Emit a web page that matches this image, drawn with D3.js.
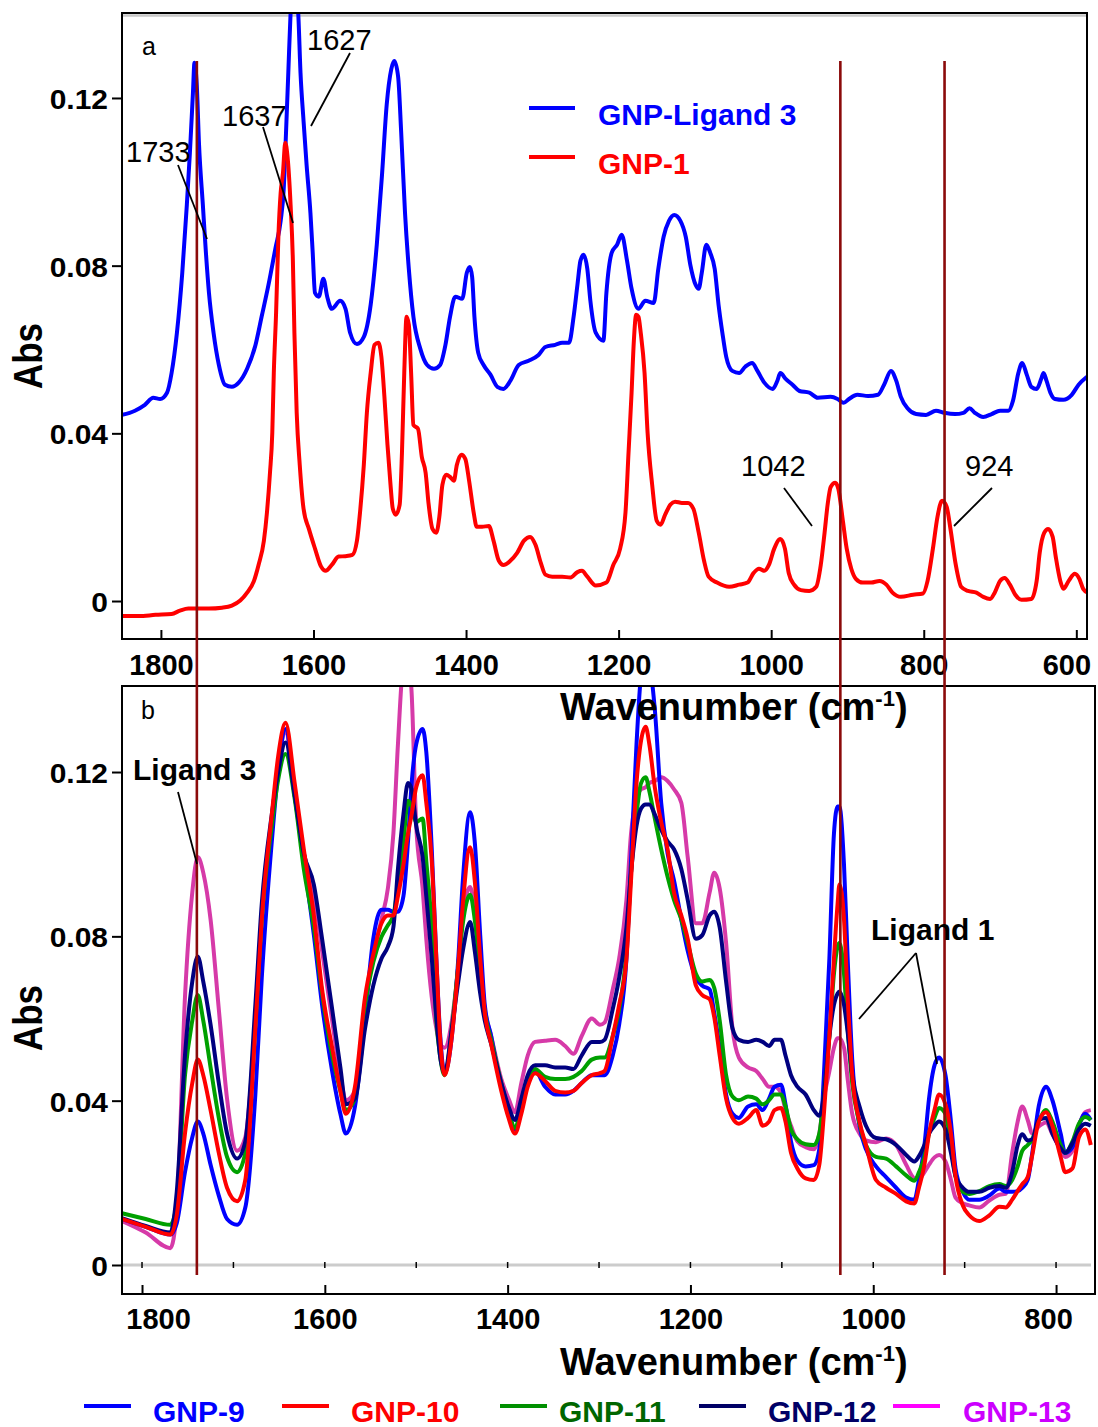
<!DOCTYPE html>
<html><head><meta charset="utf-8">
<script src="https://cdn.jsdelivr.net/npm/d3@7"></script>
<style>body{margin:0;background:#fff;} svg{display:block;}</style>
</head><body>
<svg id="chart" width="1098" height="1427"></svg>
<script>
// ---------- Panel a data ----------
const ligand3Wn = [1851,1834,1821,1810,1801,1792,1786,1779,1772,1766,1762,1758,1756,1753,1750,1745,1741,1737,1731,1724,1716,1707,1698,1687,1676,1668,1659,1650,1643,1639,1636,1633,1630,1626,1620,1617,1613,1609,1604,1601,1598,1593,1587,1582,1576,1565,1558,1552,1543,1534,1525,1517,1510,1504,1498,1494,1489,1485,1480,1475,1469,1460,1451,1442,1434,1427,1421,1414,1405,1399,1395,1392,1389,1384,1377,1368,1359,1351,1342,1331,1318,1305,1296,1283,1274,1265,1259,1254,1250,1246,1241,1237,1230,
1220,1216,1209,1202,1196,1189,1183,1174,1165,1154,1148,1141,1134,1127,1119,1112,1106,1099,1095,1091,1085,1080,1074,1069,1064,1059,1051,1042,1034,1025,1018,1009,998,992,988,981,972,963,950,939,922,913,905,898,887,873,860,852,843,836,830,821,810,797,784,773,759,748,740,733,722,711,700,689,683,676,671,665,659,652,646,643,639,634,628,617,606,597,586];
const ligand3Abs = [0.0444,0.0454,0.0468,0.0485,0.0482,0.0497,0.0544,0.0640,0.0783,0.0945,0.1069,0.1212,0.1284,0.1231,0.1088,0.0945,0.0831,0.0735,0.0640,0.0563,0.0516,0.0511,0.0521,0.0554,0.0611,0.0678,0.0754,0.0840,0.0907,0.0983,0.1117,0.1260,0.1403,0.1500,0.1403,0.1260,0.1145,0.1040,0.0926,0.0831,0.0735,0.0726,0.0769,0.0726,0.0697,0.0716,0.0697,0.0640,0.0613,0.0630,0.0707,0.0850,0.1021,0.1184,0.1269,0.1288,0.1250,0.1117,0.0926,0.0792,0.0678,0.0602,0.0563,0.0554,0.0563,0.0611,0.0678,0.0726,0.0721,0.0783,0.0797,0.0773,0.0678,0.0592,0.0563,0.0540,0.0511,0.0506,0.0525,0.0563,0.0573,0.0587,0.0606,0.0611,0.0616,0.0616,0.0678,0.0754,0.0812,0.0826,0.0792,0.0716,0.0640,
0.0621,0.0735,0.0831,0.0850,0.0874,0.0812,0.0745,0.0697,0.0716,0.0711,0.0792,0.0869,0.0907,0.0921,0.0907,0.0869,0.0802,0.0754,0.0745,0.0783,0.0850,0.0831,0.0792,0.0707,0.0640,0.0583,0.0549,0.0544,0.0559,0.0568,0.0549,0.0521,0.0506,0.0525,0.0544,0.0530,0.0516,0.0501,0.0497,0.0485,0.0487,0.0482,0.0473,0.0482,0.0492,0.0489,0.0492,0.0516,0.0549,0.0525,0.0487,0.0459,0.0446,0.0444,0.0454,0.0449,0.0446,0.0449,0.0460,0.0449,0.0439,0.0446,0.0454,0.0454,0.0478,0.0544,0.0568,0.0540,0.0511,0.0506,0.0530,0.0544,0.0525,0.0497,0.0482,0.0480,0.0492,0.0516,0.0535];

const gnp1Wn = [1851,1829,1807,1786,1775,1764,1737,1720,1707,1696,1687,1678,1672,1665,1661,1657,1654,1652,1649,1646,1643,1640,1637,1634,1630,1627,1625,1622,1618,1613,1606,1598,1590,1584,1576,1567,1558,1549,1543,1539,1534,1530,1525,1520,1515,1511,1507,1503,1499,1496,1492,1487,1484,1481,1478,1475,1472,1469,1463,1458,1453,1449,1444,1439,1435,1431,1426,1421,1416,1412,1406,1401,1396,1390,1386,1379,1370,1364,1357,1351,1342,1333,1324,1316,1309,1302,1296,1287,1274,1263,1254,1248,1241,1230,
1216,1207,1198,1191,1187,1183,1180,1177,1174,1171,1166,1162,1156,1150,1145,1139,1132,1126,1117,1109,1102,1095,1088,1082,1071,1055,1042,1031,1023,1016,1009,1003,996,988,982,977,970,961,950,941,935,930,926,922,916,912,906,901,895,889,880,869,858,849,841,830,814,801,795,788,782,776,770,765,758,751,742,731,722,713,707,700,694,687,680,672,659,652,648,642,637,631,627,621,617,610,602,596,591,585];
const gnp1Abs = [-0.0036,-0.0036,-0.0033,-0.0031,-0.0023,-0.0018,-0.0018,-0.0016,-0.0011,0.0001,0.0020,0.0048,0.0086,0.0144,0.0211,0.0306,0.0401,0.0544,0.0688,0.0869,0.0974,0.1021,0.1093,0.1060,0.0945,0.0812,0.0640,0.0449,0.0325,0.0220,0.0172,0.0125,0.0082,0.0072,0.0086,0.0106,0.0107,0.0110,0.0144,0.0211,0.0325,0.0449,0.0544,0.0611,0.0616,0.0583,0.0487,0.0373,0.0277,0.0220,0.0206,0.0230,0.0354,0.0544,0.0678,0.0659,0.0544,0.0420,0.0411,0.0344,0.0306,0.0230,0.0172,0.0163,0.0201,0.0277,0.0301,0.0296,0.0287,0.0325,0.0349,0.0339,0.0287,0.0211,0.0177,0.0177,0.0179,0.0144,0.0096,0.0086,0.0096,0.0115,0.0144,0.0153,0.0134,0.0091,0.0063,0.0058,0.0058,0.0056,0.0069,0.0072,0.0058,0.0037,
0.0044,0.0086,0.0125,0.0211,0.0354,0.0497,0.0621,0.0683,0.0678,0.0640,0.0544,0.0401,0.0277,0.0191,0.0182,0.0206,0.0230,0.0237,0.0234,0.0234,0.0220,0.0163,0.0096,0.0058,0.0044,0.0034,0.0039,0.0044,0.0067,0.0077,0.0072,0.0086,0.0125,0.0148,0.0125,0.0067,0.0039,0.0026,0.0024,0.0034,0.0086,0.0163,0.0230,0.0272,0.0282,0.0268,0.0191,0.0125,0.0077,0.0053,0.0044,0.0044,0.0048,0.0039,0.0020,0.0010,0.0015,0.0018,0.0048,0.0125,0.0201,0.0239,0.0225,0.0172,0.0086,0.0034,0.0024,0.0020,0.0010,0.0005,0.0020,0.0048,0.0055,0.0039,0.0015,0.0003,0.0005,0.0048,0.0115,0.0163,0.0172,0.0153,0.0106,0.0048,0.0029,0.0048,0.0065,0.0053,0.0029,0.0020];

// ---------- Panel b data ----------
const bottomWn = [1822,1796,1769,1762,1753,1745,1739,1733,1725,1716,1707,1696,1687,1676,1669,1658,1651,1643,1633,1623,1612,1603,1592,1583,1577,1567,1556,1547,1538,1531,1525,1520,1514,1509,1505,1500,1493,1489,1483,1478,1474,1469,1461,1454,1449,1441,1436,1430,1425,1418,1407,1399,1392,1385,1378,1370,1359,1348,1337,1328,1319,1308,1299,
1294,1285,1278,1270,1265,1259,1254,1249,1245,1239,1232,1225,1218,1210,1203,1194,1187,1179,1174,1168,1161,1154,1147,1137,1128,1121,1114,1108,1101,1096,1090,1083,1074,1065,1059,1054,1048,1043,1039,1037,1032,1028,1023,1015,1008,997,986,975,964,955,950,944,939,933,928,921,915,910,902,895,884,873,862,855,848,842,837,831,826,819,811,804,795,790,782,775,768,762];
const gnp9 = [0.0112,0.0093,0.0074,0.0102,0.0226,0.0311,0.0349,0.0320,0.0244,0.0169,0.0112,0.0098,0.0140,0.0415,0.0699,0.1031,0.1201,0.1305,0.1144,0.0983,0.0803,0.0633,0.0472,0.0368,0.0320,0.0386,0.0604,0.0794,0.0865,0.0865,0.0860,0.0860,0.0898,0.1031,0.1173,0.1268,0.1305,0.1249,0.1012,0.0746,0.0567,0.0467,0.0557,0.0746,0.0936,0.1102,0.1031,0.0803,0.0633,0.0557,0.0434,0.0368,0.0330,0.0377,0.0443,0.0472,0.0434,0.0415,0.0415,0.0424,0.0443,0.0462,0.0462,
0.0462,0.0510,0.0585,0.0746,0.0983,0.1268,0.1438,0.1485,0.1466,0.1353,0.1125,0.1002,0.0936,0.0841,0.0765,0.0699,0.0680,0.0671,0.0614,0.0529,0.0415,0.0368,0.0358,0.0386,0.0391,0.0377,0.0405,0.0434,0.0439,0.0391,0.0301,0.0254,0.0240,0.0243,0.0282,0.0462,0.0746,0.1050,0.1116,0.1116,0.0974,0.0746,0.0500,0.0339,0.0282,0.0240,0.0214,0.0188,0.0164,0.0159,0.0207,0.0292,0.0405,0.0486,0.0505,0.0462,0.0349,0.0235,0.0178,0.0159,0.0159,0.0169,0.0186,0.0178,0.0178,0.0180,0.0188,0.0207,0.0273,0.0386,0.0434,0.0401,0.0320,0.0273,0.0287,0.0339,0.0368,0.0353];
const gnp10 = [0.0112,0.0093,0.0074,0.0121,0.0320,0.0443,0.0500,0.0462,0.0377,0.0273,0.0188,0.0155,0.0207,0.0576,0.0841,0.1097,0.1239,0.1320,0.1173,0.1012,0.0851,0.0671,0.0529,0.0424,0.0368,0.0434,0.0652,0.0756,0.0832,0.0851,0.0851,0.0898,0.0974,0.1050,0.1097,0.1163,0.1192,0.1125,0.0983,0.0746,0.0557,0.0462,0.0557,0.0728,0.0879,0.1017,0.0936,0.0746,0.0614,0.0538,0.0424,0.0358,0.0320,0.0368,0.0434,0.0467,0.0448,0.0424,0.0420,0.0424,0.0443,0.0462,0.0467,
0.0472,0.0557,0.0633,0.0746,0.0936,0.1173,0.1277,0.1310,0.1268,0.1163,0.1078,0.1012,0.0907,0.0851,0.0794,0.0680,0.0657,0.0647,0.0604,0.0510,0.0405,0.0358,0.0344,0.0358,0.0377,0.0339,0.0349,0.0377,0.0382,0.0349,0.0273,0.0235,0.0211,0.0207,0.0244,0.0368,0.0557,0.0746,0.0879,0.0926,0.0841,0.0652,0.0462,0.0349,0.0292,0.0207,0.0188,0.0173,0.0155,0.0150,0.0188,0.0244,0.0320,0.0377,0.0415,0.0391,0.0320,0.0216,0.0145,0.0121,0.0107,0.0121,0.0142,0.0140,0.0159,0.0180,0.0197,0.0214,0.0268,0.0349,0.0372,0.0339,0.0263,0.0226,0.0235,0.0311,0.0330,0.0292];
const gnp11 = [0.0126,0.0112,0.0098,0.0150,0.0462,0.0595,0.0657,0.0595,0.0481,0.0358,0.0263,0.0226,0.0273,0.0585,0.0841,0.1069,0.1182,0.1244,0.1135,0.0964,0.0822,0.0661,0.0510,0.0424,0.0377,0.0405,0.0633,0.0737,0.0799,0.0827,0.0851,0.0926,0.1031,0.1130,0.1116,0.1078,0.1087,0.0983,0.0822,0.0595,0.0510,0.0462,0.0576,0.0728,0.0832,0.0901,0.0841,0.0709,0.0614,0.0548,0.0443,0.0377,0.0334,0.0386,0.0453,0.0477,0.0458,0.0453,0.0453,0.0458,0.0472,0.0500,0.0505,
0.0505,0.0557,0.0623,0.0765,0.0955,0.1097,0.1173,0.1187,0.1154,0.1087,0.1012,0.0945,0.0889,0.0841,0.0784,0.0709,0.0690,0.0694,0.0675,0.0595,0.0462,0.0410,0.0401,0.0410,0.0405,0.0391,0.0401,0.0415,0.0415,0.0386,0.0330,0.0306,0.0294,0.0292,0.0320,0.0415,0.0557,0.0709,0.0775,0.0784,0.0709,0.0576,0.0443,0.0344,0.0292,0.0263,0.0259,0.0240,0.0218,0.0205,0.0226,0.0263,0.0320,0.0358,0.0382,0.0368,0.0292,0.0216,0.0178,0.0173,0.0180,0.0192,0.0197,0.0192,0.0207,0.0240,0.0278,0.0292,0.0306,0.0349,0.0377,0.0349,0.0292,0.0273,0.0301,0.0344,0.0360,0.0353];
const gnp12 = [0.0114,0.0095,0.0079,0.0178,0.0510,0.0690,0.0751,0.0690,0.0585,0.0443,0.0320,0.0259,0.0301,0.0633,0.0879,0.1097,0.1201,0.1272,0.1144,0.1002,0.0926,0.0794,0.0623,0.0481,0.0391,0.0405,0.0576,0.0680,0.0746,0.0775,0.0822,0.0964,0.1097,0.1173,0.1158,0.1069,0.0993,0.0898,0.0746,0.0604,0.0510,0.0467,0.0576,0.0690,0.0765,0.0835,0.0765,0.0661,0.0595,0.0538,0.0443,0.0386,0.0353,0.0405,0.0462,0.0486,0.0486,0.0481,0.0481,0.0477,0.0510,0.0543,0.0543,
0.0548,0.0623,0.0699,0.0822,0.0955,0.1069,0.1111,0.1121,0.1121,0.1097,0.1059,0.1031,0.1012,0.0964,0.0889,0.0794,0.0803,0.0851,0.0860,0.0822,0.0690,0.0576,0.0548,0.0543,0.0548,0.0543,0.0533,0.0548,0.0548,0.0510,0.0462,0.0434,0.0415,0.0377,0.0363,0.0415,0.0557,0.0633,0.0661,0.0666,0.0633,0.0567,0.0462,0.0386,0.0339,0.0309,0.0306,0.0292,0.0268,0.0252,0.0265,0.0292,0.0320,0.0339,0.0349,0.0330,0.0273,0.0216,0.0188,0.0178,0.0178,0.0188,0.0192,0.0188,0.0226,0.0292,0.0318,0.0303,0.0306,0.0353,0.0358,0.0320,0.0284,0.0273,0.0297,0.0330,0.0344,0.0339];
const gnp13 = [0.0107,0.0079,0.0041,0.0131,0.0652,0.0907,0.0993,0.0955,0.0841,0.0623,0.0405,0.0278,0.0311,0.0595,0.0841,0.1087,0.1220,0.1296,0.1144,0.1002,0.0907,0.0765,0.0595,0.0462,0.0401,0.0424,0.0623,0.0756,0.0841,0.0917,0.1050,0.1268,0.1466,0.1485,0.1391,0.1069,0.0917,0.0794,0.0652,0.0576,0.0538,0.0529,0.0595,0.0728,0.0851,0.0920,0.0860,0.0718,0.0623,0.0557,0.0453,0.0405,0.0372,0.0443,0.0510,0.0543,0.0546,0.0548,0.0533,0.0514,0.0557,0.0600,0.0585,
0.0590,0.0671,0.0746,0.0889,0.1050,0.1135,0.1158,0.1163,0.1173,0.1178,0.1187,0.1178,0.1158,0.1125,0.0993,0.0832,0.0832,0.0907,0.0955,0.0917,0.0784,0.0576,0.0505,0.0481,0.0472,0.0453,0.0434,0.0434,0.0420,0.0377,0.0339,0.0301,0.0287,0.0282,0.0320,0.0405,0.0472,0.0529,0.0552,0.0552,0.0529,0.0453,0.0368,0.0320,0.0303,0.0299,0.0308,0.0292,0.0244,0.0211,0.0209,0.0226,0.0244,0.0262,0.0268,0.0252,0.0207,0.0164,0.0150,0.0145,0.0140,0.0157,0.0171,0.0173,0.0273,0.0349,0.0386,0.0353,0.0320,0.0337,0.0347,0.0318,0.0280,0.0263,0.0278,0.0339,0.0372,0.0377];

// ---------- ticks / labels ----------
const yTickValues = [0, 0.04, 0.08, 0.12];
const yTickLabels = ["0", "0.04", "0.08", "0.12"];
const xTopTicks = [1800, 1600, 1400, 1200, 1000, 800, 600];
const xBotTicks = [1800, 1600, 1400, 1200, 1000, 800];
const xBotMinor = [1800, 1700, 1600, 1500, 1400, 1300, 1200, 1100, 1000, 900, 800];
const markerLines = [1740, 1036, 922];
const topSeries = [
  {name: "GNP-Ligand 3", wn: ligand3Wn, abs: ligand3Abs, color: "#0000ff"},
  {name: "GNP-1", wn: gnp1Wn, abs: gnp1Abs, color: "#ff0000"}
];
const botSeries = [
  {name: "GNP-13", abs: gnp13, color: "#d63aa8", legLine: "#ff00ff", legText: "#cc00ff"},
  {name: "GNP-9", abs: gnp9, color: "#0000ff", legLine: "#0000ff", legText: "#0000ff"},
  {name: "GNP-11", abs: gnp11, color: "#00a000", legLine: "#009000", legText: "#006600"},
  {name: "GNP-12", abs: gnp12, color: "#000080", legLine: "#000066", legText: "#000066"},
  {name: "GNP-10", abs: gnp10, color: "#ff0000", legLine: "#ff0000", legText: "#ff0000"}
];
const legendOrder = ["GNP-9", "GNP-10", "GNP-11", "GNP-12", "GNP-13"];

// ---------- drawing ----------
const FONT = "'Liberation Sans', Arial, Helvetica, sans-serif";
const svg = d3.select("#chart").style("font-family", FONT);

const topBox = {x0: 122, x1: 1087, y0: 13, y1: 639};
const botBox = {x0: 122, x1: 1095, y0: 686, y1: 1294};
const xTop = d3.scaleLinear().domain([1851, 586]).range([topBox.x0, topBox.x1]);
const yTop = d3.scaleLinear().domain([-0.00906, 0.14027]).range([topBox.y1, topBox.y0]);
const xBot = d3.scaleLinear().domain([1821.9, 757.4]).range([botBox.x0, botBox.x1]);
const yBot = d3.scaleLinear().domain([-0.00706, 0.14094]).range([botBox.y1, botBox.y0]);

const defs = svg.append("defs");
defs.append("clipPath").attr("id", "clipTop").append("rect")
  .attr("x", topBox.x0).attr("y", topBox.y0).attr("width", topBox.x1 - topBox.x0).attr("height", topBox.y1 - topBox.y0);
defs.append("clipPath").attr("id", "clipBot").append("rect")
  .attr("x", botBox.x0).attr("y", botBox.y0).attr("width", botBox.x1 - botBox.x0).attr("height", botBox.y1 - botBox.y0);

// ---- panel a ----
svg.append("line").attr("x1", topBox.x0).attr("x2", topBox.x1).attr("y1", topBox.y0 + 2.5).attr("y2", topBox.y0 + 2.5)
  .attr("stroke", "#c8c8c8").attr("stroke-width", 2.5);

const lineGen = d3.line().curve(d3.curveMonotoneX);
const gTop = svg.append("g").attr("clip-path", "url(#clipTop)");
topSeries.forEach(s => {
  const pts = s.wn.map((w, i) => [xTop(w), yTop(s.abs[i])]);
  gTop.append("path").attr("d", lineGen(pts)).attr("fill", "none")
    .attr("stroke", s.color).attr("stroke-width", 4).attr("stroke-linejoin", "round");
});

const axTopY = svg.append("g").attr("transform", `translate(${topBox.x0},0)`)
  .call(d3.axisLeft(yTop).tickValues(yTickValues).tickFormat((d, i) => yTickLabels[i]).tickSize(10).tickPadding(4).tickSizeOuter(0));
const axTopX = svg.append("g").attr("transform", `translate(0,${topBox.y1})`)
  .call(d3.axisBottom(xTop).tickValues(xTopTicks).tickFormat(d3.format("d")).tickSize(-9).tickPadding(15).tickSizeOuter(0));
axTopX.selectAll(".tick text").attr("dx", d => d === 600 ? -10 : 0);

svg.append("rect").attr("x", topBox.x0).attr("y", topBox.y0)
  .attr("width", topBox.x1 - topBox.x0).attr("height", topBox.y1 - topBox.y0)
  .attr("fill", "none").attr("stroke", "#000").attr("stroke-width", 2);

// ---- panel b ----
svg.append("line").attr("x1", botBox.x0).attr("x2", botBox.x1 - 4).attr("y1", yBot(0)).attr("y2", yBot(0))
  .attr("stroke", "#cccccc").attr("stroke-width", 3);
svg.append("g").selectAll("line").data(xBotMinor).join("line")
  .attr("x1", d => xBot(d)).attr("x2", d => xBot(d))
  .attr("y1", yBot(0) - 3).attr("y2", yBot(0) + 3)
  .attr("stroke", "#000").attr("stroke-width", 1.5);

const gBot = svg.append("g").attr("clip-path", "url(#clipBot)");
botSeries.forEach(s => {
  const pts = bottomWn.map((w, i) => [xBot(w), yBot(s.abs[i])]);
  gBot.append("path").attr("d", lineGen(pts)).attr("fill", "none")
    .attr("stroke", s.color).attr("stroke-width", 4).attr("stroke-linejoin", "round");
});

const axBotY = svg.append("g").attr("transform", `translate(${botBox.x0},0)`)
  .call(d3.axisLeft(yBot).tickValues(yTickValues).tickFormat((d, i) => yTickLabels[i]).tickSize(10).tickPadding(4).tickSizeOuter(0));
const axBotX = svg.append("g").attr("transform", `translate(0,${botBox.y1})`)
  .call(d3.axisBottom(xBot).tickValues(xBotTicks).tickFormat(d3.format("d")).tickSize(-9).tickPadding(14).tickSizeOuter(0));
axBotX.selectAll(".tick text").attr("dx", d => d === 1800 ? 16 : (d === 800 ? -8 : 0));

svg.append("rect").attr("x", botBox.x0).attr("y", botBox.y0)
  .attr("width", botBox.x1 - botBox.x0).attr("height", botBox.y1 - botBox.y0)
  .attr("fill", "none").attr("stroke", "#000").attr("stroke-width", 2);

// axis styling
[axTopY, axTopX, axBotY, axBotX].forEach(a => {
  a.select(".domain").remove();
  a.selectAll(".tick line").attr("stroke", "#000").attr("stroke-width", 2);
  a.selectAll(".tick text").attr("fill", "#000").attr("font-family", FONT).attr("font-weight", "bold");
});
[axTopY, axBotY].forEach(a => {
  a.selectAll(".tick text").attr("font-size", 28).attr("dy", "0.38em");
  a.selectAll(".tick text").each(function() {
    const w = this.getComputedTextLength();
    d3.select(this).attr("textLength", w * 1.07).attr("lengthAdjust", "spacingAndGlyphs");
  });
});
[axTopX, axBotX].forEach(a => a.selectAll(".tick text").attr("font-size", 29));

// marker lines (span both panels)
svg.append("g").selectAll("line").data(markerLines).join("line")
  .attr("x1", d => xBot(d)).attr("x2", d => xBot(d))
  .attr("y1", 61).attr("y2", 1275)
  .attr("stroke", "#8b0a0a").attr("stroke-width", 2.6);

// axis titles
function wavTitle(x, y) {
  const t = svg.append("text").attr("x", x).attr("y", y).attr("font-size", 38).attr("font-weight", "bold").attr("fill", "#000");
  t.append("tspan").text("Wavenumber (cm");
  t.append("tspan").attr("font-size", 22).attr("dy", -14).text("-1");
  t.append("tspan").attr("dy", 14).text(")");
}
wavTitle(560, 720);
wavTitle(560, 1375);
function absTitle(cy) {
  svg.append("text").attr("transform", `translate(42,${cy}) rotate(-90)`)
    .attr("text-anchor", "middle").attr("font-size", 40).attr("font-weight", "bold")
    .attr("textLength", 66).attr("lengthAdjust", "spacingAndGlyphs").text("Abs");
}
absTitle(356);
absTitle(1018);

// panel letters
svg.append("text").attr("x", 142).attr("y", 55).attr("font-size", 25).text("a");
svg.append("text").attr("x", 141).attr("y", 719).attr("font-size", 25).text("b");

// top legend
topSeries.forEach((s, i) => {
  const ly = [108, 157][i];
  svg.append("line").attr("x1", 529).attr("x2", 575).attr("y1", ly).attr("y2", ly)
    .attr("stroke", s.color).attr("stroke-width", 4);
  svg.append("text").attr("x", 598).attr("y", ly + 17).attr("font-size", 30).attr("font-weight", "bold")
    .attr("fill", s.color).text(s.name);
});

// bottom legend
const legX = [[84, 153], [282, 351], [500, 559], [699, 768], [893, 963]];
legendOrder.forEach((n, i) => {
  const s = botSeries.find(b => b.name === n);
  svg.append("line").attr("x1", legX[i][0]).attr("x2", legX[i][0] + 47).attr("y1", 1406).attr("y2", 1406)
    .attr("stroke", s.legLine).attr("stroke-width", 4);
  svg.append("text").attr("x", legX[i][1]).attr("y", 1422).attr("font-size", 30).attr("font-weight", "bold")
    .attr("fill", s.legText).text(n);
});

// annotations
const annotations = [
  {t: "1627", x: 307, y: 50, l: [350, 53, 311, 126], bold: false},
  {t: "1637", x: 222, y: 126, l: [263, 127, 293, 223], bold: false},
  {t: "1733", x: 126, y: 162, l: [178, 165, 207, 239], bold: false},
  {t: "1042", x: 741, y: 476, l: [784, 488, 812, 526], bold: false},
  {t: "924", x: 965, y: 476, l: [992, 488, 954, 526], bold: false},
  {t: "Ligand 3", x: 133, y: 780, l: [178, 792, 197, 864], bold: true},
  {t: "Ligand 1", x: 871, y: 940, l: [916, 953, 859, 1019], bold: true}
];
annotations.forEach(a => {
  svg.append("text").attr("x", a.x).attr("y", a.y).attr("font-size", a.bold ? 30 : 29)
    .attr("font-weight", a.bold ? "bold" : "normal").attr("fill", "#000").text(a.t);
  svg.append("line").attr("x1", a.l[0]).attr("y1", a.l[1]).attr("x2", a.l[2]).attr("y2", a.l[3])
    .attr("stroke", "#000").attr("stroke-width", 1.8);
});
svg.append("line").attr("x1", 916).attr("y1", 953).attr("x2", 937).attr("y2", 1064)
  .attr("stroke", "#000").attr("stroke-width", 1.8);
</script>
</body></html>
